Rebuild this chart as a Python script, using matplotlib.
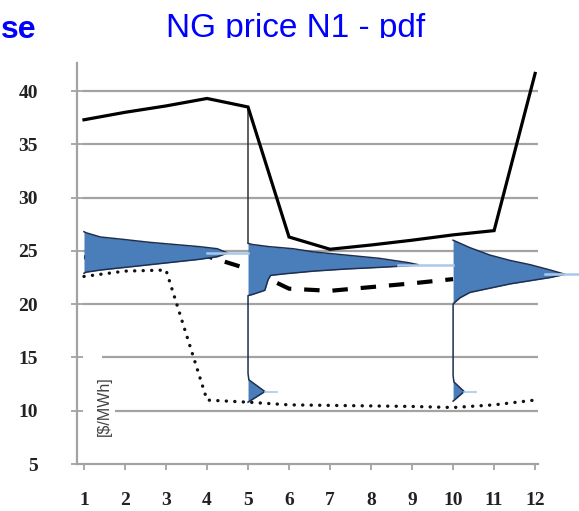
import matplotlib
matplotlib.use("Agg")
import matplotlib.pyplot as plt
from matplotlib.transforms import Bbox, TransformedBbox

# precios mensuales ($/MWh)
months = list(range(1, 13))
solid_price = [37.3, 38.0, 38.6, 39.3, 38.5, 26.3, 25.15, 25.55, 26.0, 26.5, 26.9, 41.65]
dashed_price = [24.4, 24.4, 24.45, 24.5, 23.3, 21.45, 21.25, 21.6, 21.95, 22.35]
dotted_price = [22.6, 23.1, 23.2, 11.0, 10.8, 10.55, 10.5, 10.45, 10.4, 10.3, 10.55, 11.0]

# pdf horizontales: precio -> ancho (en meses) a partir del mes base
pdf_months = [1, 5, 10]
pdf1_price = [22.9, 23.0, 23.2, 23.7, 24.2, 24.45, 24.8, 25.2, 25.4, 25.8, 26.1, 26.3, 26.7, 26.8]
pdf1_width = [0.0, 0.05, 0.4, 1.6, 2.8, 3.25, 3.5, 3.25, 2.8, 1.6, 0.9, 0.4, 0.05, 0.0]
pdf5_price = [10.8, 11.8, 12.9, 13.5, 20.8, 20.9, 21.3, 21.8, 22.3, 22.7, 22.85, 23.1, 23.3,
              23.45, 23.6, 23.7, 23.9, 24.3, 24.6, 24.9, 25.2, 25.4, 25.6, 25.7]
pdf5_width = [0.0, 0.41, 0.02, 0.0, 0.0, 0.1, 0.41, 0.45, 0.49, 0.55, 0.9, 1.6, 2.4,
              3.2, 3.9, 4.15, 3.9, 3.2, 2.4, 1.6, 1.1, 0.5, 0.1, 0.0]
pdf10_price = [10.9, 11.8, 12.7, 13.3, 20.0, 20.2, 20.6, 21.1, 21.5, 21.9, 22.2, 22.5,
               22.8, 23.2, 23.7, 24.1, 24.6, 25.3, 26.0]
pdf10_width = [0.0, 0.27, 0.02, 0.0, 0.0, 0.05, 0.17, 0.41, 0.9, 1.39, 1.88, 2.37,
               2.73, 2.37, 1.88, 1.39, 0.9, 0.41, 0.0]
pdf_mode = [24.8, 23.7, 22.8]
tail_mode = [11.8, 11.8]

y_ticks = [5, 10, 15, 20, 25, 30, 35, 40]
grid_levels = [10, 15, 20, 25, 30, 35, 40]

fig = plt.figure(figsize=(5.79, 5.11), dpi=100)
ax = fig.add_axes([77 / 579, 47 / 511, 502 / 579, (464 - 63.3) / 511])
ax.set_xlim(0.83, 13.07)
ax.set_ylim(5, 42.6)

grid_start = [1.76 if g == 10 else 1.44 if g == 15 else 0.98 for g in grid_levels]
ax.hlines(grid_levels, grid_start, 12.07, color="#a3a3a3", lw=1.6, zorder=1)

# lineas de precio
ax.plot(months[:len(dashed_price)], dashed_price, color="black", lw=3,
        dashes=[3.7, 3.1], zorder=2)

# pdfs
blue = "#4a7ebb"
light = "#a9c8ea"
pdfs = [(pdf1_price, pdf1_width), (pdf5_price, pdf5_width), (pdf10_price, pdf10_width)]
for base, (pr, wd) in zip(pdf_months, pdfs):
    right = [base + w for w in wd]
    ax.fill_betweenx(pr, base, right, color=blue, lw=0, zorder=3)
    ax.plot(right, pr, color="#1f2f4f", lw=1.1, zorder=4)

# lineas claras desde la punta de cada pdf
next_base = pdf_months[1:] + [13.1]
for base, (pr, wd), m, nb in zip(pdf_months, pdfs, pdf_mode, next_base):
    tip = base + max(wd)
    ax.plot([tip - 0.5, nb], [m, m], color=light, lw=1.8, zorder=4)
for base, (pr, wd), t in zip(pdf_months[1:], pdfs[1:], tail_mode):
    w = wd[1]
    ax.plot([base + w, base + w + 0.3], [t, t], color=light, lw=1.2, zorder=4)

# linea vertical que baja hasta la pdf del mes 5
ax.vlines(pdf_months[1], pdf5_price[-1], solid_price[pdf_months[1] - 1],
          color="#333333", lw=1.1, zorder=4)

ax.plot(months, dotted_price, color="#111111", lw=2.4, linestyle=(0, (0.05, 2.5)),
        dash_capstyle="round", zorder=5)
ax.plot(months, solid_price, color="black", lw=2.3, solid_joinstyle="miter", zorder=6)

# ejes
for s in ["top", "right"]:
    ax.spines[s].set_visible(False)
for s in ["left", "bottom"]:
    ax.spines[s].set_color("#a3a3a3")
    ax.spines[s].set_linewidth(1.6)
ax.spines["bottom"].set_bounds(0.83, 12.07)

serif = ["Liberation Serif", "DejaVu Serif"]
ax.set_xticks(months)
ax.set_xticklabels([str(m) for m in months], family=serif, fontsize=14,
                   weight="bold", color="#222222")
ax.set_yticks(y_ticks)
ax.set_yticklabels([str(v) for v in y_ticks], family=serif, fontsize=14,
                   weight="bold", color="#222222")
ax.tick_params(axis="x", direction="out", length=4.5, width=1.3, color="#a3a3a3", pad=16)
ax.tick_params(axis="y", direction="inout", length=8, width=1.3, color="#a3a3a3", pad=24)

ax.text(1.49, 10.4, "[\\$/MWh]", rotation=90, ha="center", va="center",
        fontsize=11.5, color="#444444", family=["Liberation Sans", "DejaVu Sans"], zorder=7)

# titulos (cortados por abajo como en la diapositiva)
clip = TransformedBbox(Bbox([[0, 1 - 38.5 / 511], [1, 1]]), fig.transFigure)
t1 = fig.text(296 / 579, 1 - 37.5 / 511, "NG price N1 - pdf", ha="center", va="baseline",
              fontsize=24, color="#0000ff",
              family=["Liberation Sans Narrow", "Liberation Sans", "DejaVu Sans"])
t2 = fig.text(0.5 / 579, 1 - 37.5 / 511, "se", ha="left", va="baseline",
              fontsize=23, weight="bold", color="#0000ff",
              family=["Liberation Sans Narrow", "Liberation Sans", "DejaVu Sans"])
for t in (t1, t2):
    t.set_clip_box(clip)
    t.set_clip_on(True)

fig.savefig("out.png", dpi=100)
